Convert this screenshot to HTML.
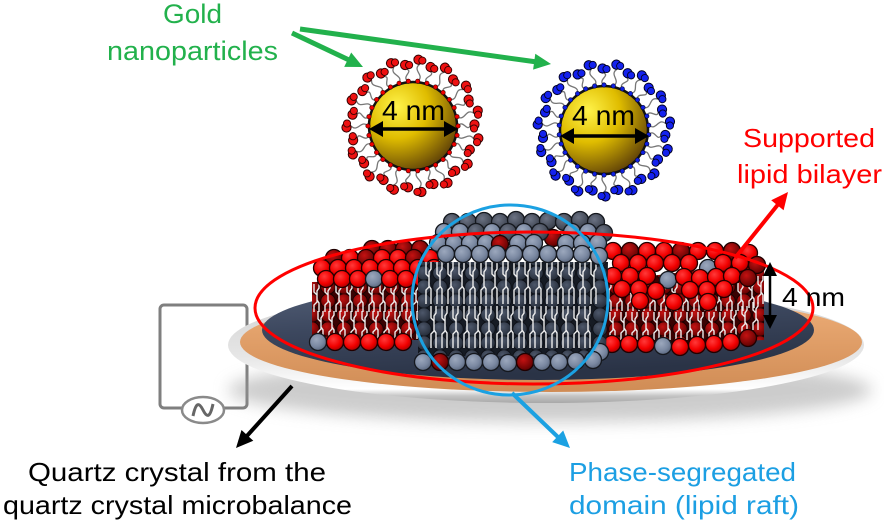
<!DOCTYPE html>
<html><head><meta charset="utf-8"><style>
html,body{margin:0;padding:0;background:#fff;}
svg{display:block;}
text{font-family:"Liberation Sans",sans-serif;}
</style></head><body>
<svg width="884" height="524" viewBox="0 0 884 524" xmlns="http://www.w3.org/2000/svg" xmlns:xlink="http://www.w3.org/1999/xlink">
<defs>
<radialGradient id="gGold" cx="0.32" cy="0.28" r="0.8"><stop offset="0" stop-color="#fff34a"/><stop offset="0.45" stop-color="#e0bd00"/><stop offset="1" stop-color="#5a3c08"/></radialGradient>
<radialGradient id="gR" cx="0.4" cy="0.35" r="0.7"><stop offset="0" stop-color="#ff3a3a"/><stop offset="0.6" stop-color="#f20000"/><stop offset="1" stop-color="#a00000"/></radialGradient>
<radialGradient id="gRd" cx="0.4" cy="0.35" r="0.7"><stop offset="0" stop-color="#c41212"/><stop offset="1" stop-color="#5a0000"/></radialGradient>
<radialGradient id="gG" cx="0.4" cy="0.35" r="0.7"><stop offset="0" stop-color="#9ca8bd"/><stop offset="0.6" stop-color="#7a88a1"/><stop offset="1" stop-color="#58647b"/></radialGradient>
<radialGradient id="gGd" cx="0.4" cy="0.35" r="0.7"><stop offset="0" stop-color="#6c7384"/><stop offset="1" stop-color="#353b47"/></radialGradient>
<radialGradient id="gN" cx="0.4" cy="0.35" r="0.7"><stop offset="0" stop-color="#4d576a"/><stop offset="1" stop-color="#232a36"/></radialGradient>
<linearGradient id="gSil" x1="0" y1="0" x2="0" y2="1"><stop offset="0" stop-color="#cfcfcf"/><stop offset="0.6" stop-color="#e6e6e6"/><stop offset="0.8" stop-color="#f8f8f8"/><stop offset="0.88" stop-color="#ffffff"/><stop offset="0.94" stop-color="#c4c4c4"/><stop offset="1" stop-color="#a8a8a8"/></linearGradient>
<linearGradient id="gOr" x1="0" y1="0" x2="0" y2="1"><stop offset="0" stop-color="#f0b07a"/><stop offset="1" stop-color="#d08c55"/></linearGradient>
<linearGradient id="gNav" x1="0" y1="0" x2="0.3" y2="1"><stop offset="0" stop-color="#56627a"/><stop offset="0.5" stop-color="#3c475e"/><stop offset="1" stop-color="#2a3346"/></linearGradient>
<filter id="blur" x="-20%" y="-50%" width="140%" height="200%"><feGaussianBlur stdDeviation="8"/></filter>
<pattern id="pDR" width="16" height="14" patternUnits="userSpaceOnUse"><rect width="16" height="14" fill="#3a0202"/><circle cx="8" cy="7" r="7.3" fill="url(#gRd)" stroke="#1a0000" stroke-width="1"/></pattern>
<pattern id="pNV" width="16" height="14" patternUnits="userSpaceOnUse"><rect width="16" height="14" fill="#161b24"/><circle cx="8" cy="7" r="7.3" fill="url(#gN)" stroke="#0e1118" stroke-width="1"/></pattern>
<circle id="hr" r="8.5" fill="url(#gR)" stroke="#220000" stroke-width="1.3"/>
<circle id="hd" r="8.5" fill="url(#gRd)" stroke="#200000" stroke-width="1.3"/>
<circle id="hg" r="8.5" fill="url(#gG)" stroke="#15181e" stroke-width="1.3"/>
<circle id="hk" r="8.5" fill="url(#gGd)" stroke="#15181e" stroke-width="1.3"/>
<path id="tS" d="M0,0v8l3,3v7l-3,3v7 M5,0v4l-2,3v9l2,3v9" fill="none" stroke="#ececec" stroke-width="1.4"/>
<path id="tL" d="M0,0v12l3,3v10l-3,3v14 M5,0v7l-2,3v14l2,3v15" fill="none" stroke="#ececec" stroke-width="1.4"/>
<g id="LR1"><path d="M45,0C50,-7 54,6 57,0" fill="none" stroke="#777" stroke-width="1.3"/><circle cx="45" cy="0" r="2.2" fill="#e00" stroke="#300" stroke-width=".6"/><circle cx="61.5" cy="-1.5" r="4.6" fill="#ee1111" stroke="#300" stroke-width="1"/><circle cx="61" cy="2.5" r="3.6" fill="#ee1111" stroke="#300" stroke-width=".9"/></g>
<g id="LR2"><path d="M45,0C52,7 55,-7 62,0" fill="none" stroke="#777" stroke-width="1.3"/><circle cx="45" cy="0" r="2.2" fill="#e00" stroke="#300" stroke-width=".6"/><circle cx="66.5" cy="-1.5" r="4.6" fill="#ee1111" stroke="#300" stroke-width="1"/><circle cx="66" cy="2.5" r="3.6" fill="#ee1111" stroke="#300" stroke-width=".9"/></g>
<g id="LB1"><path d="M45,0C50,-7 54,6 57,0" fill="none" stroke="#777" stroke-width="1.3"/><circle cx="45" cy="0" r="2.2" fill="#1020e0" stroke="#002" stroke-width=".6"/><circle cx="61.5" cy="-1.5" r="4.6" fill="#1422ee" stroke="#002" stroke-width="1"/><circle cx="61" cy="2.5" r="3.6" fill="#1422ee" stroke="#002" stroke-width=".9"/></g>
<g id="LB2"><path d="M45,0C52,7 55,-7 62,0" fill="none" stroke="#777" stroke-width="1.3"/><circle cx="45" cy="0" r="2.2" fill="#1020e0" stroke="#002" stroke-width=".6"/><circle cx="66.5" cy="-1.5" r="4.6" fill="#1422ee" stroke="#002" stroke-width="1"/><circle cx="66" cy="2.5" r="3.6" fill="#1422ee" stroke="#002" stroke-width=".9"/></g>
</defs>

<rect width="884" height="524" fill="#fff"/>

<!-- circuit -->
<rect x="160" y="305" width="87" height="103" rx="4" fill="none" stroke="#7f7f7f" stroke-width="3"/>
<ellipse cx="203" cy="410" rx="21" ry="13" fill="#fff" stroke="#8a8a8a" stroke-width="2.5"/>
<path d="M193,416 C196,402 199,402 203,410 C207,418 210,418 213,404" fill="none" stroke="#666" stroke-width="3"/>

<!-- disk -->
<ellipse cx="550" cy="390" rx="322" ry="32" fill="#9a9a9a" opacity="0.5" filter="url(#blur)"/>
<ellipse cx="546" cy="345" rx="318" ry="58" fill="url(#gSil)"/>
<ellipse cx="551" cy="342" rx="311" ry="50" fill="url(#gOr)"/>
<ellipse cx="538" cy="330" rx="276" ry="50" fill="url(#gNav)"/>

<!-- left block -->
<polygon points="312,282 438,280 438,340 312,340" fill="url(#pDR)"/>
<g>
<use xlink:href="#tS" x="314" y="284"/><use xlink:href="#tS" x="325" y="284"/><use xlink:href="#tS" x="336" y="284"/><use xlink:href="#tS" x="347" y="284"/><use xlink:href="#tS" x="358" y="284"/><use xlink:href="#tS" x="369" y="284"/><use xlink:href="#tS" x="380" y="284"/><use xlink:href="#tS" x="391" y="284"/><use xlink:href="#tS" x="402" y="284"/><use xlink:href="#tS" x="413" y="284"/><use xlink:href="#tS" x="424" y="284"/>
<use xlink:href="#tS" x="318" y="311"/><use xlink:href="#tS" x="329" y="311"/><use xlink:href="#tS" x="340" y="311"/><use xlink:href="#tS" x="351" y="311"/><use xlink:href="#tS" x="362" y="311"/><use xlink:href="#tS" x="373" y="311"/><use xlink:href="#tS" x="384" y="311"/><use xlink:href="#tS" x="395" y="311"/><use xlink:href="#tS" x="406" y="311"/><use xlink:href="#tS" x="417" y="311"/>
</g>
<g>
<use xlink:href="#hd" x="372" y="249"/><use xlink:href="#hd" x="388" y="249"/><use xlink:href="#hd" x="404" y="249"/><use xlink:href="#hd" x="420" y="249"/>
<use xlink:href="#hd" x="334" y="258"/><use xlink:href="#hr" x="350" y="258"/><use xlink:href="#hd" x="366" y="258"/><use xlink:href="#hr" x="382" y="258"/><use xlink:href="#hr" x="398" y="258"/><use xlink:href="#hd" x="414" y="258"/><use xlink:href="#hr" x="430" y="258"/>
<use xlink:href="#hr" x="322" y="268"/><use xlink:href="#hr" x="338" y="268"/><use xlink:href="#hr" x="354" y="268"/><use xlink:href="#hr" x="370" y="268"/><use xlink:href="#hr" x="386" y="268"/><use xlink:href="#hr" x="402" y="268"/><use xlink:href="#hr" x="418" y="268"/><use xlink:href="#hr" x="434" y="268"/>
<use xlink:href="#hr" x="326" y="279"/><use xlink:href="#hr" x="342" y="279"/><use xlink:href="#hr" x="358" y="279"/><use xlink:href="#hg" x="374" y="279"/><use xlink:href="#hr" x="390" y="279"/><use xlink:href="#hr" x="406" y="279"/><use xlink:href="#hr" x="422" y="279"/>
<use xlink:href="#hg" x="318" y="342"/><use xlink:href="#hr" x="335" y="342"/><use xlink:href="#hr" x="352" y="342"/><use xlink:href="#hr" x="369" y="342"/><use xlink:href="#hr" x="386" y="342"/><use xlink:href="#hr" x="403" y="342"/>
</g>

<!-- right block -->
<polygon points="602,282 764,262 764,340 602,348" fill="url(#pDR)"/>
<g>
<use xlink:href="#tS" x="606" y="283"/><use xlink:href="#tS" x="617" y="283"/><use xlink:href="#tS" x="628" y="283"/><use xlink:href="#tS" x="639" y="283"/><use xlink:href="#tS" x="650" y="283"/><use xlink:href="#tS" x="661" y="283"/><use xlink:href="#tS" x="672" y="283"/><use xlink:href="#tS" x="683" y="283"/><use xlink:href="#tS" x="694" y="283"/><use xlink:href="#tS" x="705" y="283"/><use xlink:href="#tS" x="716" y="283"/><use xlink:href="#tS" x="727" y="283"/><use xlink:href="#tS" x="738" y="283"/><use xlink:href="#tS" x="749" y="280"/><use xlink:href="#tS" x="758" y="276"/>
<use xlink:href="#tS" x="610" y="312"/><use xlink:href="#tS" x="621" y="312"/><use xlink:href="#tS" x="632" y="312"/><use xlink:href="#tS" x="643" y="312"/><use xlink:href="#tS" x="654" y="312"/><use xlink:href="#tS" x="665" y="312"/><use xlink:href="#tS" x="676" y="312"/><use xlink:href="#tS" x="687" y="312"/><use xlink:href="#tS" x="698" y="312"/><use xlink:href="#tS" x="709" y="312"/><use xlink:href="#tS" x="720" y="312"/><use xlink:href="#tS" x="731" y="310"/><use xlink:href="#tS" x="742" y="306"/><use xlink:href="#tS" x="753" y="302"/>
</g>
<g>
<use xlink:href="#hr" x="613" y="251"/><use xlink:href="#hd" x="630" y="251"/><use xlink:href="#hr" x="647" y="251"/><use xlink:href="#hr" x="664" y="251"/><use xlink:href="#hd" x="681" y="251"/><use xlink:href="#hr" x="698" y="251"/><use xlink:href="#hr" x="715" y="251"/><use xlink:href="#hd" x="732" y="251"/><use xlink:href="#hr" x="749" y="253"/>
<use xlink:href="#hr" x="621" y="263"/><use xlink:href="#hr" x="638" y="263"/><use xlink:href="#hr" x="655" y="263"/><use xlink:href="#hr" x="672" y="263"/><use xlink:href="#hr" x="689" y="263"/><use xlink:href="#hg" x="708" y="268"/><use xlink:href="#hr" x="723" y="263"/><use xlink:href="#hr" x="740" y="263"/><use xlink:href="#hd" x="757" y="265"/>
<use xlink:href="#hr" x="613" y="276"/><use xlink:href="#hr" x="630" y="276"/><use xlink:href="#hr" x="647" y="276"/><use xlink:href="#hg" x="668" y="280"/><use xlink:href="#hr" x="684" y="277"/><use xlink:href="#hr" x="700" y="278"/><use xlink:href="#hr" x="716" y="277"/><use xlink:href="#hr" x="732" y="276"/><use xlink:href="#hd" x="748" y="278"/>
<use xlink:href="#hr" x="622" y="289"/><use xlink:href="#hr" x="639" y="289"/><use xlink:href="#hr" x="656" y="291"/><use xlink:href="#hr" x="690" y="290"/><use xlink:href="#hr" x="707" y="290"/><use xlink:href="#hr" x="724" y="289"/>
<use xlink:href="#hr" x="640" y="301"/><use xlink:href="#hr" x="674" y="302"/><use xlink:href="#hr" x="708" y="302"/>
<use xlink:href="#hr" x="612" y="344"/><use xlink:href="#hr" x="629" y="344"/><use xlink:href="#hr" x="646" y="344"/><use xlink:href="#hg" x="663" y="346"/><use xlink:href="#hr" x="680" y="347"/><use xlink:href="#hr" x="697" y="345"/><use xlink:href="#hr" x="714" y="344"/><use xlink:href="#hr" x="731" y="342"/><use xlink:href="#hd" x="748" y="338"/>
</g>

<!-- raft -->
<polygon points="418,262 608,262 606,356 418,356" fill="url(#pNV)"/>
<g>
<use xlink:href="#tL" x="426" y="262"/><use xlink:href="#tL" x="437" y="262"/><use xlink:href="#tL" x="448" y="262"/><use xlink:href="#tL" x="459" y="262"/><use xlink:href="#tL" x="470" y="262"/><use xlink:href="#tL" x="481" y="262"/><use xlink:href="#tL" x="492" y="262"/><use xlink:href="#tL" x="503" y="262"/><use xlink:href="#tL" x="514" y="262"/><use xlink:href="#tL" x="525" y="262"/><use xlink:href="#tL" x="536" y="262"/><use xlink:href="#tL" x="547" y="262"/><use xlink:href="#tL" x="558" y="262"/><use xlink:href="#tL" x="569" y="262"/><use xlink:href="#tL" x="580" y="262"/><use xlink:href="#tL" x="591" y="262"/>
<use xlink:href="#tL" x="431" y="306"/><use xlink:href="#tL" x="442" y="306"/><use xlink:href="#tL" x="453" y="306"/><use xlink:href="#tL" x="464" y="306"/><use xlink:href="#tL" x="475" y="306"/><use xlink:href="#tL" x="486" y="306"/><use xlink:href="#tL" x="497" y="306"/><use xlink:href="#tL" x="508" y="306"/><use xlink:href="#tL" x="519" y="306"/><use xlink:href="#tL" x="530" y="306"/><use xlink:href="#tL" x="541" y="306"/><use xlink:href="#tL" x="552" y="306"/><use xlink:href="#tL" x="563" y="306"/><use xlink:href="#tL" x="574" y="306"/><use xlink:href="#tL" x="585" y="306"/>
</g>
<g>
<use xlink:href="#hk" x="452" y="222"/><use xlink:href="#hk" x="468" y="222"/><use xlink:href="#hk" x="484" y="221"/><use xlink:href="#hk" x="500" y="222"/><use xlink:href="#hk" x="516" y="220"/><use xlink:href="#hk" x="532" y="222"/><use xlink:href="#hk" x="548" y="221"/><use xlink:href="#hk" x="564" y="222"/><use xlink:href="#hk" x="580" y="220"/><use xlink:href="#hk" x="596" y="222"/>
<use xlink:href="#hg" x="444" y="232"/><use xlink:href="#hg" x="460" y="232"/><use xlink:href="#hk" x="476" y="232"/><use xlink:href="#hg" x="492" y="232"/><use xlink:href="#hk" x="508" y="232"/><use xlink:href="#hg" x="524" y="232"/><use xlink:href="#hd" x="553" y="238"/><use xlink:href="#hk" x="540" y="232"/><use xlink:href="#hg" x="572" y="232"/><use xlink:href="#hg" x="588" y="232"/><use xlink:href="#hk" x="604" y="233"/>
<use xlink:href="#hg" x="438" y="243"/><use xlink:href="#hg" x="454" y="243"/><use xlink:href="#hg" x="470" y="243"/><use xlink:href="#hg" x="486" y="243"/><use xlink:href="#hd" x="500" y="244"/><use xlink:href="#hg" x="518" y="243"/><use xlink:href="#hg" x="534" y="243"/><use xlink:href="#hg" x="566" y="243"/><use xlink:href="#hg" x="582" y="243"/><use xlink:href="#hg" x="598" y="243"/>
<use xlink:href="#hg" x="446" y="254"/><use xlink:href="#hg" x="463" y="254"/><use xlink:href="#hg" x="480" y="254"/><use xlink:href="#hg" x="497" y="254"/><use xlink:href="#hg" x="514" y="254"/><use xlink:href="#hg" x="531" y="254"/><use xlink:href="#hg" x="548" y="254"/><use xlink:href="#hg" x="565" y="254"/><use xlink:href="#hg" x="582" y="254"/><use xlink:href="#hg" x="599" y="256"/>
<use xlink:href="#hg" x="600" y="352"/>
<use xlink:href="#hg" x="423" y="362"/><use xlink:href="#hd" x="440" y="362"/><use xlink:href="#hg" x="457" y="362"/><use xlink:href="#hg" x="474" y="362"/><use xlink:href="#hg" x="491" y="362"/><use xlink:href="#hg" x="508" y="363"/><use xlink:href="#hd" x="525" y="362"/><use xlink:href="#hg" x="542" y="362"/><use xlink:href="#hg" x="559" y="362"/><use xlink:href="#hg" x="576" y="361"/><use xlink:href="#hg" x="593" y="360"/>
</g>

<!-- ellipses -->
<ellipse cx="534" cy="308" rx="279" ry="76" fill="none" stroke="#ff0000" stroke-width="3"/>
<ellipse cx="510" cy="300" rx="98" ry="95" fill="none" stroke="#1ba1e2" stroke-width="3" transform="rotate(-6 510 300)"/>

<!-- 4 nm bilayer -->
<line x1="770" y1="272" x2="770" y2="320" stroke="#000" stroke-width="2.5"/>
<polygon points="770,262 763,276 777,276" fill="#000"/>
<polygon points="770,329 763,315 777,315" fill="#000"/>
<text x="782" y="306" font-size="26" fill="#000" textLength="63" lengthAdjust="spacingAndGlyphs">4 nm</text>

<!-- arrows -->
<line x1="292" y1="33" x2="349" y2="60" stroke="#22b14c" stroke-width="5"/>
<polygon points="363,67 344.2,66.9 351.2,52.5" fill="#22b14c"/>
<line x1="300" y1="29" x2="537" y2="62" stroke="#22b14c" stroke-width="5"/>
<polygon points="551,64 533.1,69.6 535.3,53.7" fill="#22b14c"/>
<line x1="735" y1="258" x2="780" y2="202" stroke="#ff0000" stroke-width="4"/>
<polygon points="788,192 783.6,210.3 771.2,200.3" fill="#ff0000"/>
<line x1="292" y1="386" x2="246" y2="437" stroke="#000" stroke-width="4"/>
<polygon points="236,448 253.3,440.8 241.5,430" fill="#000"/>
<line x1="512" y1="393" x2="560" y2="439" stroke="#1ba1e2" stroke-width="4"/>
<polygon points="570,448 552.2,442.1 563.2,430.5" fill="#1ba1e2"/>

<!-- red particle -->
<circle cx="413" cy="126" r="44" fill="url(#gGold)" stroke="#111" stroke-width="2.5"/>
<g transform="translate(413,126)">
<use xlink:href="#LR1" transform="rotate(0)"/><use xlink:href="#LR2" transform="rotate(12)"/><use xlink:href="#LR1" transform="rotate(24)"/><use xlink:href="#LR2" transform="rotate(36)"/><use xlink:href="#LR1" transform="rotate(48)"/><use xlink:href="#LR2" transform="rotate(60)"/><use xlink:href="#LR1" transform="rotate(72)"/><use xlink:href="#LR2" transform="rotate(84)"/><use xlink:href="#LR1" transform="rotate(96)"/><use xlink:href="#LR2" transform="rotate(108)"/><use xlink:href="#LR1" transform="rotate(120)"/><use xlink:href="#LR2" transform="rotate(132)"/><use xlink:href="#LR1" transform="rotate(144)"/><use xlink:href="#LR2" transform="rotate(156)"/><use xlink:href="#LR1" transform="rotate(168)"/><use xlink:href="#LR2" transform="rotate(180)"/><use xlink:href="#LR1" transform="rotate(192)"/><use xlink:href="#LR2" transform="rotate(204)"/><use xlink:href="#LR1" transform="rotate(216)"/><use xlink:href="#LR2" transform="rotate(228)"/><use xlink:href="#LR1" transform="rotate(240)"/><use xlink:href="#LR2" transform="rotate(252)"/><use xlink:href="#LR1" transform="rotate(264)"/><use xlink:href="#LR2" transform="rotate(276)"/><use xlink:href="#LR1" transform="rotate(288)"/><use xlink:href="#LR2" transform="rotate(300)"/><use xlink:href="#LR1" transform="rotate(312)"/><use xlink:href="#LR2" transform="rotate(324)"/><use xlink:href="#LR1" transform="rotate(336)"/><use xlink:href="#LR2" transform="rotate(348)"/>
</g>
<text x="382" y="120" font-size="28" fill="#000" textLength="63" lengthAdjust="spacingAndGlyphs">4 nm</text>
<line x1="380" y1="129" x2="447" y2="129" stroke="#000" stroke-width="3.5"/>
<polygon points="369,129 383,121 383,137" fill="#000"/>
<polygon points="458,129 444,121 444,137" fill="#000"/>

<!-- blue particle -->
<circle cx="604" cy="130" r="44" fill="url(#gGold)" stroke="#111" stroke-width="2.5"/>
<g transform="translate(604,130)">
<use xlink:href="#LB1" transform="rotate(6)"/><use xlink:href="#LB2" transform="rotate(18)"/><use xlink:href="#LB1" transform="rotate(30)"/><use xlink:href="#LB2" transform="rotate(42)"/><use xlink:href="#LB1" transform="rotate(54)"/><use xlink:href="#LB2" transform="rotate(66)"/><use xlink:href="#LB1" transform="rotate(78)"/><use xlink:href="#LB2" transform="rotate(90)"/><use xlink:href="#LB1" transform="rotate(102)"/><use xlink:href="#LB2" transform="rotate(114)"/><use xlink:href="#LB1" transform="rotate(126)"/><use xlink:href="#LB2" transform="rotate(138)"/><use xlink:href="#LB1" transform="rotate(150)"/><use xlink:href="#LB2" transform="rotate(162)"/><use xlink:href="#LB1" transform="rotate(174)"/><use xlink:href="#LB2" transform="rotate(186)"/><use xlink:href="#LB1" transform="rotate(198)"/><use xlink:href="#LB2" transform="rotate(210)"/><use xlink:href="#LB1" transform="rotate(222)"/><use xlink:href="#LB2" transform="rotate(234)"/><use xlink:href="#LB1" transform="rotate(246)"/><use xlink:href="#LB2" transform="rotate(258)"/><use xlink:href="#LB1" transform="rotate(270)"/><use xlink:href="#LB2" transform="rotate(282)"/><use xlink:href="#LB1" transform="rotate(294)"/><use xlink:href="#LB2" transform="rotate(306)"/><use xlink:href="#LB1" transform="rotate(318)"/><use xlink:href="#LB2" transform="rotate(330)"/><use xlink:href="#LB1" transform="rotate(342)"/><use xlink:href="#LB2" transform="rotate(354)"/>
</g>
<text x="572" y="125" font-size="28" fill="#000" textLength="63" lengthAdjust="spacingAndGlyphs">4 nm</text>
<line x1="571" y1="136" x2="638" y2="136" stroke="#000" stroke-width="3.5"/>
<polygon points="560,136 574,128 574,144" fill="#000"/>
<polygon points="649,136 635,128 635,144" fill="#000"/>

<!-- labels -->
<text x="163" y="23" font-size="27" fill="#22b14c" textLength="59" lengthAdjust="spacingAndGlyphs">Gold</text>
<text x="107" y="60" font-size="27" fill="#22b14c" textLength="171" lengthAdjust="spacingAndGlyphs">nanoparticles</text>
<text x="743" y="147" font-size="26" fill="#ff0000" textLength="132" lengthAdjust="spacingAndGlyphs">Supported</text>
<text x="737" y="183" font-size="26" fill="#ff0000" textLength="145" lengthAdjust="spacingAndGlyphs">lipid bilayer</text>
<text x="28" y="481" font-size="26" fill="#000" textLength="298" lengthAdjust="spacingAndGlyphs">Quartz crystal from the</text>
<text x="3" y="514" font-size="26" fill="#000" textLength="349" lengthAdjust="spacingAndGlyphs">quartz crystal microbalance</text>
<text x="569" y="481" font-size="26" fill="#1c9fe3" textLength="227" lengthAdjust="spacingAndGlyphs">Phase-segregated</text>
<text x="569" y="514" font-size="26" fill="#1c9fe3" textLength="230" lengthAdjust="spacingAndGlyphs">domain (lipid raft)</text>
</svg>
</body></html>
